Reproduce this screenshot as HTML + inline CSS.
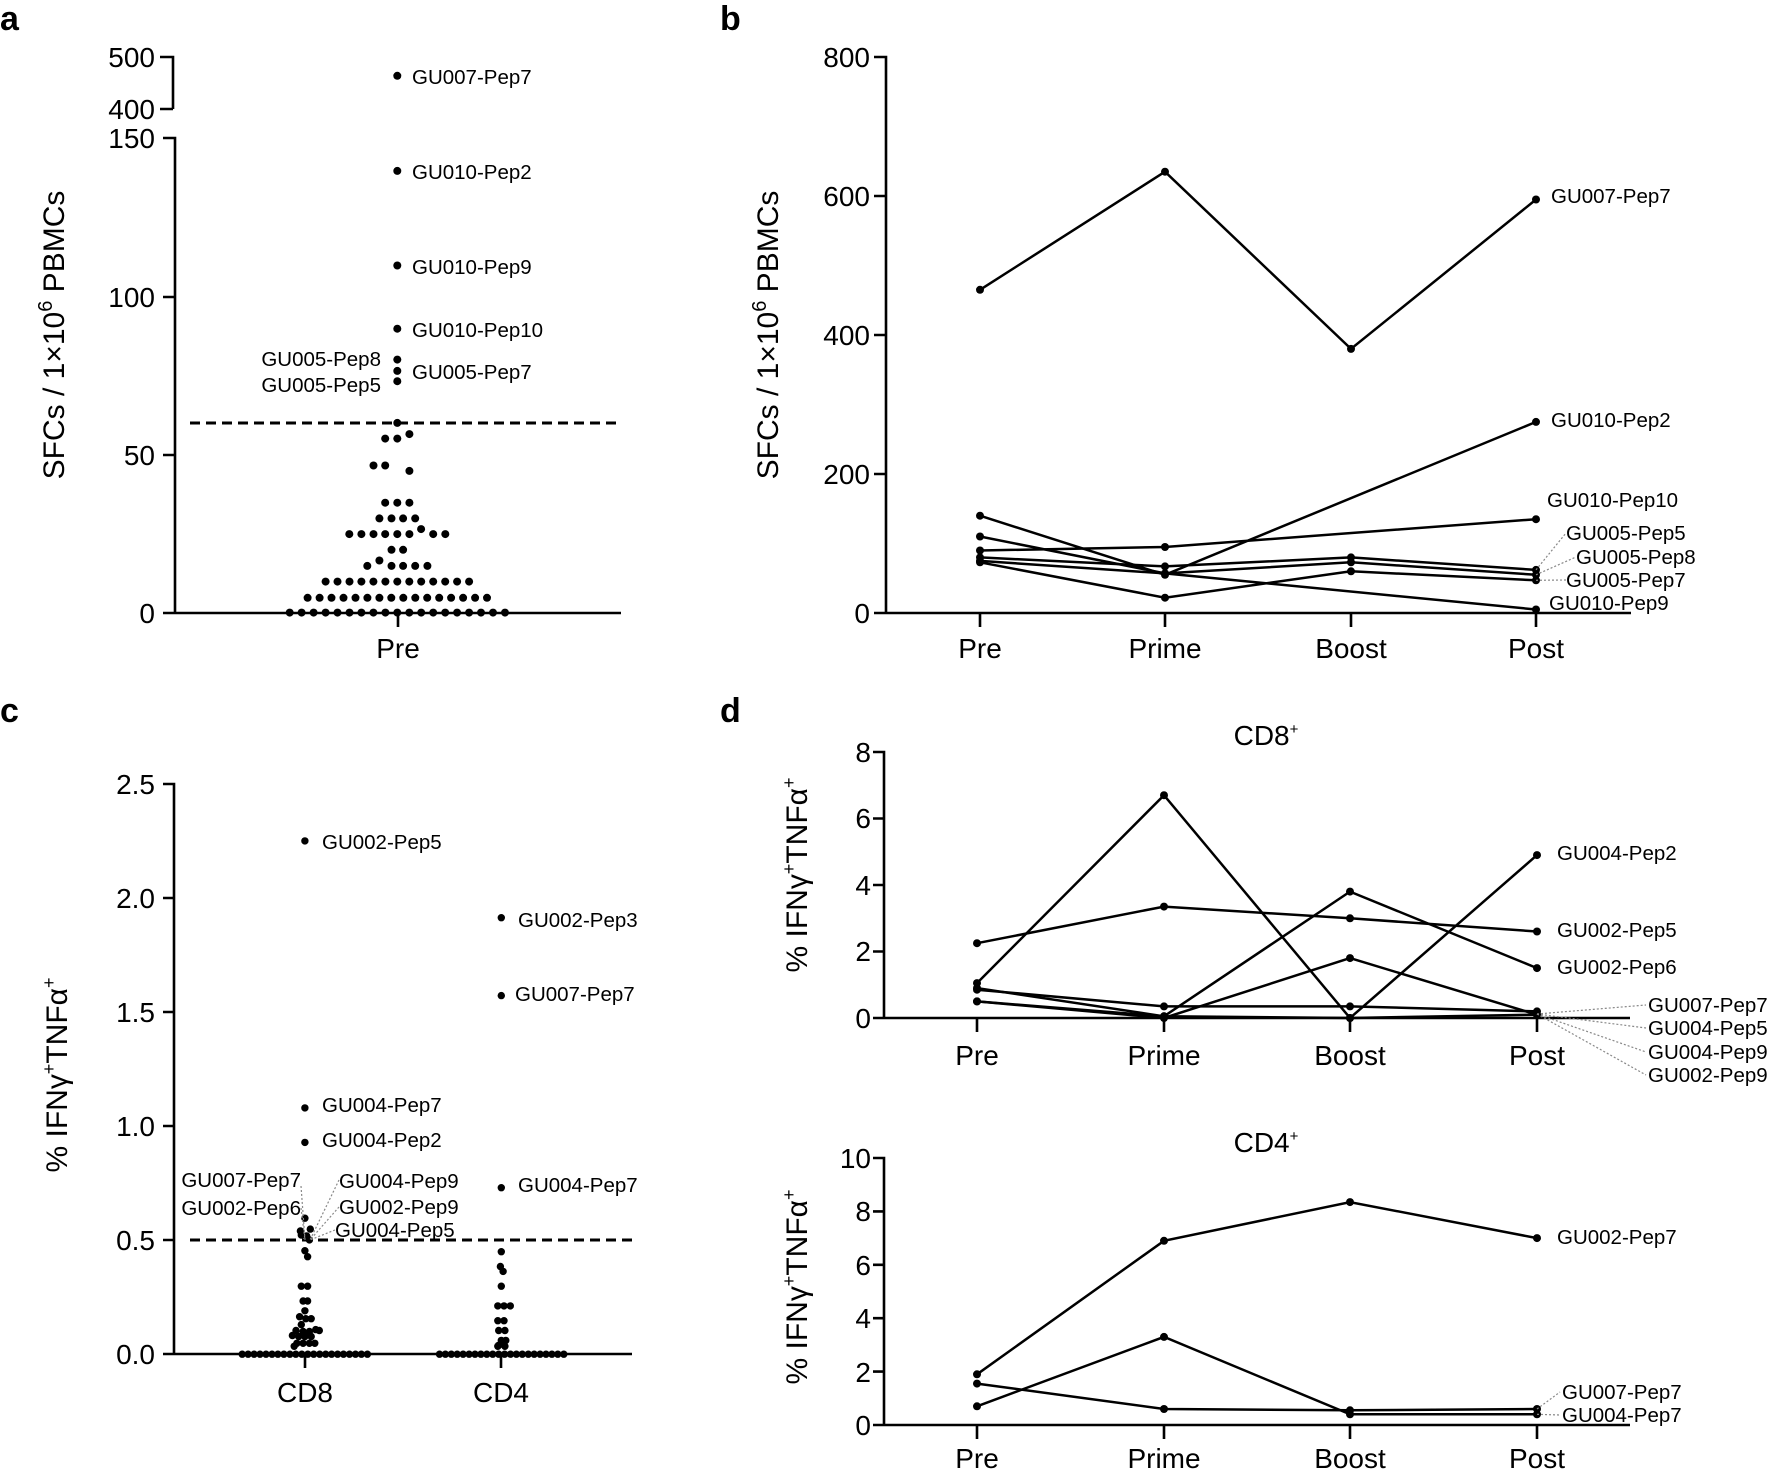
<!DOCTYPE html>
<html><head><meta charset="utf-8">
<style>
html,body{margin:0;padding:0;background:#fff;}
svg{display:block;}
text{font-family:"Liberation Sans",Arial,sans-serif;fill:#000;}
.lt{font-size:28px;}
.tt{font-size:30px;}
.tk{font-size:28px;}
.lab{font-size:20.5px;}
.pl{font-size:34px;font-weight:bold;}
</style></head>
<body>
<svg id="s" width="1772" height="1471" viewBox="0 0 1772 1471" xmlns="http://www.w3.org/2000/svg">
<g stroke="#000" stroke-width="2.6" fill="none">
<path d="M160 57H173V109M160 109H173"/>
<path d="M163 138H175V613M163 297H175M163 455H175M163 613H621M398 613V627"/>
<path d="M874 57H886V613H1631M874 196H886M874 335H886M874 474H886M874 613H886M980 613V627M1165 613V627M1351 613V627M1536 613V627"/>
<path d="M163 784H174V1354H632M163 898H174M163 1012H174M163 1126H174M163 1240H174M163 1354H174M305 1354V1368M501 1354V1368"/>
<path d="M873 752H884V1018H1630M873 818.5H884M873 885H884M873 951.5H884M873 1018H884M977 1018V1032M1164 1018V1032M1350 1018V1032M1537 1018V1032"/>
<path d="M873 1158H884V1425H1630M873 1211.4H884M873 1264.8H884M873 1318.2H884M873 1371.6H884M873 1425H884M977 1425V1439M1164 1425V1439M1350 1425V1439M1537 1425V1439"/>
</g>
<g stroke="#000" stroke-width="3" stroke-dasharray="10,6">
<line x1="190" y1="423" x2="621" y2="423"/>
<line x1="190" y1="1240" x2="632" y2="1240"/>
</g>
<g id="dots" fill="#000"></g>
<g id="lines" stroke="#000" stroke-width="2.5" fill="none"></g>
<g id="lead" stroke="#888" stroke-width="1.2" stroke-dasharray="2,2" fill="none"></g>

<text class="pl" x="0" y="30">a</text>
<text class="pl" x="720" y="30">b</text>
<text class="pl" x="0" y="722">c</text>
<text class="pl" x="720" y="722">d</text>

<g class="tk" text-anchor="end">
<text x="155" y="67">500</text><text x="155" y="119">400</text>
<text x="155" y="148">150</text><text x="155" y="307">100</text>
<text x="155" y="465">50</text><text x="155" y="623">0</text>
</g>
<text class="lt" x="398" y="658" text-anchor="middle">Pre</text>
<text class="tt" transform="translate(64,335) rotate(-90)" text-anchor="middle">SFCs / 1×10<tspan dy="-12" font-size="20">6</tspan><tspan dy="12"> PBMCs</tspan></text>
<g class="lab">
<text x="412" y="84">GU007-Pep7</text>
<text x="412" y="179">GU010-Pep2</text>
<text x="412" y="274">GU010-Pep9</text>
<text x="412" y="337">GU010-Pep10</text>
<text x="412" y="379">GU005-Pep7</text>
<text x="381" y="366" text-anchor="end">GU005-Pep8</text>
<text x="381" y="392" text-anchor="end">GU005-Pep5</text>
</g>

<g class="tk" text-anchor="end">
<text x="870" y="67">800</text><text x="870" y="206">600</text><text x="870" y="345">400</text><text x="870" y="484">200</text><text x="870" y="623">0</text>
</g>
<g class="lt" text-anchor="middle">
<text x="980" y="658">Pre</text><text x="1165" y="658">Prime</text><text x="1351" y="658">Boost</text><text x="1536" y="658">Post</text>
</g>
<text class="tt" transform="translate(778,335) rotate(-90)" text-anchor="middle">SFCs / 1×10<tspan dy="-12" font-size="20">6</tspan><tspan dy="12"> PBMCs</tspan></text>
<g class="lab">
<text x="1551" y="203">GU007-Pep7</text>
<text x="1551" y="427">GU010-Pep2</text>
<text x="1547" y="507">GU010-Pep10</text>
<text x="1566" y="540">GU005-Pep5</text>
<text x="1576" y="564">GU005-Pep8</text>
<text x="1566" y="587">GU005-Pep7</text>
<text x="1549" y="610">GU010-Pep9</text>
</g>

<g class="tk" text-anchor="end">
<text x="155" y="794">2.5</text><text x="155" y="908">2.0</text><text x="155" y="1022">1.5</text>
<text x="155" y="1136">1.0</text><text x="155" y="1250">0.5</text><text x="155" y="1364">0.0</text>
</g>
<text class="lt" x="305" y="1402" text-anchor="middle">CD8</text>
<text class="lt" x="501" y="1402" text-anchor="middle">CD4</text>
<text class="tt" transform="translate(67,1075) rotate(-90)" text-anchor="middle">% IFNγ<tspan dy="-12" font-size="18">+</tspan><tspan dy="12">TNFα</tspan><tspan dy="-12" font-size="18">+</tspan></text>
<g class="lab">
<text x="322" y="849">GU002-Pep5</text>
<text x="518" y="927">GU002-Pep3</text>
<text x="515" y="1001">GU007-Pep7</text>
<text x="322" y="1112">GU004-Pep7</text>
<text x="322" y="1147">GU004-Pep2</text>
<text x="518" y="1192">GU004-Pep7</text>
<text x="301" y="1187" text-anchor="end">GU007-Pep7</text>
<text x="301" y="1215" text-anchor="end">GU002-Pep6</text>
<text x="339" y="1188">GU004-Pep9</text>
<text x="339" y="1214">GU002-Pep9</text>
<text x="335" y="1237">GU004-Pep5</text>
</g>

<text class="lt" x="1266" y="745" text-anchor="middle">CD8<tspan dy="-11" font-size="15">+</tspan></text>
<g class="tk" text-anchor="end">
<text x="871" y="762">8</text><text x="871" y="828">6</text><text x="871" y="895">4</text><text x="871" y="961">2</text><text x="871" y="1028">0</text>
</g>
<g class="lt" text-anchor="middle">
<text x="977" y="1065">Pre</text><text x="1164" y="1065">Prime</text><text x="1350" y="1065">Boost</text><text x="1537" y="1065">Post</text>
</g>
<text class="tt" transform="translate(807,875) rotate(-90)" text-anchor="middle">% IFNγ<tspan dy="-12" font-size="18">+</tspan><tspan dy="12">TNFα</tspan><tspan dy="-12" font-size="18">+</tspan></text>
<g class="lab">
<text x="1557" y="860">GU004-Pep2</text>
<text x="1557" y="937">GU002-Pep5</text>
<text x="1557" y="974">GU002-Pep6</text>
<text x="1648" y="1012">GU007-Pep7</text>
<text x="1648" y="1035">GU004-Pep5</text>
<text x="1648" y="1059">GU004-Pep9</text>
<text x="1648" y="1082">GU002-Pep9</text>
</g>

<text class="lt" x="1266" y="1152" text-anchor="middle">CD4<tspan dy="-11" font-size="15">+</tspan></text>
<g class="tk" text-anchor="end">
<text x="871" y="1168">10</text><text x="871" y="1221">8</text><text x="871" y="1275">6</text><text x="871" y="1328">4</text><text x="871" y="1382">2</text><text x="871" y="1435">0</text>
</g>
<g class="lt" text-anchor="middle">
<text x="977" y="1468">Pre</text><text x="1164" y="1468">Prime</text><text x="1350" y="1468">Boost</text><text x="1537" y="1468">Post</text>
</g>
<text class="tt" transform="translate(807,1287) rotate(-90)" text-anchor="middle">% IFNγ<tspan dy="-12" font-size="18">+</tspan><tspan dy="12">TNFα</tspan><tspan dy="-12" font-size="18">+</tspan></text>
<g class="lab">
<text x="1557" y="1244">GU002-Pep7</text>
<text x="1562" y="1399">GU007-Pep7</text>
<text x="1562" y="1422">GU004-Pep7</text>
</g>
</svg>
<script>
(function(){
var NS="http://www.w3.org/2000/svg";
var D=document.getElementById("dots"),L=document.getElementById("lines"),LD=document.getElementById("lead");
function c(x,y,r){var e=document.createElementNS(NS,"circle");e.setAttribute("cx",x.toFixed(1));e.setAttribute("cy",y.toFixed(1));e.setAttribute("r",r||4);D.appendChild(e);}
function pl(pts,g){var e=document.createElementNS(NS,"polyline");e.setAttribute("points",pts.map(function(p){return p[0].toFixed(1)+","+p[1].toFixed(1)}).join(" "));(g||L).appendChild(e);}
var s=2.23;
function row(y,x0,n,st){for(var i=0;i<n;i++)c((x0+i*st)/s,y/s);}
row(1366,646,19,26.67);row(1333,686,16,26.67);row(1297,726,13,26.67);
[[819,1262],[846,1250],[873,1262],[899,1262],[926,1262],[953,1262],[873,1226],[899,1226],
[779,1191],[806,1191],[833,1191],[859,1191],[886,1191],[913,1191],[939,1180],[966,1191],[993,1191],
[846,1156],[873,1156],[899,1156],[926,1156],[859,1121],[886,1121],[913,1121],
[833,1038],[859,1038],[913,1050],[859,978],[886,978],[913,968],[886,943],
[886,850],[886,827],[886,802],[886,733],[886,592],[886,381],[886,169]].forEach(function(p){c(p[0]/s,p[1]/s);});
var sx=2.23,sy=2.03;
function cc(x,y){c(x/sx,700+y/sy,3.7);}
for(var i=0;i<22;i++)cc(540+i*13.3,1328);
for(var i=0;i<22;i++)cc(980+i*13.2,1328);
[[680,286],[680,828],[680,898],[680,1052],[692,1074],[670,1078],[672,1086],[684,1088],[690,1096],[680,1118],[686,1130],
[672,1190],[686,1190],[676,1220],[686,1220],[680,1240],[668,1252],[682,1256],[694,1256],[672,1268],[660,1280],[676,1282],[690,1282],[704,1278],[712,1280],[652,1290],[666,1292],[680,1292],[694,1292],[662,1306],[676,1306],[690,1306],[702,1306],[656,1312],
[1118,442],[1118,600],[1118,990],[1118,1120],[1116,1150],[1122,1160],[1118,1190],[1110,1230],[1124,1230],[1138,1230],[1110,1260],[1124,1260],[1112,1280],[1126,1280],[1118,1300],[1112,1310],[1128,1300],[1110,1312],[1126,1312]].forEach(function(p){cc(p[0],p[1]);});
[[301,1186,305,1240],[301,1208,305,1240],[339,1180,310,1240],[339,1207,310,1240],[335,1230,310,1240]].forEach(function(a){pl([[a[0],a[1]],[a[2],a[3]]],LD);});
var bx=[980,1165,1351,1536];function by(v){return 613-v*0.695;}
function series(X,Y,data){data.forEach(function(d){var p=[];d.forEach(function(v,i){if(v!==null){p.push([X[i],Y(v)]);c(X[i],Y(v),4);}});pl(p);});}
series(bx,by,[[465,635,380,595],[140,55,null,275],[90,95,null,135],[110,57,null,5],[80,67,80,62],[75,57,73,55],[73,22,60,47]]);
[[1536,by(62),1566,533],[1536,by(55),1576,557],[1536,by(47),1566,580]].forEach(function(a){pl([[a[0],a[1]],[a[2],a[3]]],LD);});
var dx=[977,1164,1350,1537];function d8(v){return 1018-v*33.25;}
series(dx,d8,[[1.05,6.7,0,4.9],[2.25,3.35,3.0,2.6],[0.9,0.05,3.8,1.5],[0.5,0.0,1.8,0.1],[0.85,0.35,0.35,0.2],[0.5,0.05,0.0,0.1]]);
[1005,1028,1052,1075].forEach(function(y){pl([[1537,1014],[1646,y]],LD);});
function d4(v){return 1425-v*26.7;}
series(dx,d4,[[1.9,6.9,8.35,7.0],[0.7,3.3,0.4,0.4],[1.55,0.6,0.55,0.6]]);
pl([[1537,d4(0.6)],[1560,1392]],LD);pl([[1537,d4(0.4)],[1560,1415]],LD);
})();
</script>
</body></html>
